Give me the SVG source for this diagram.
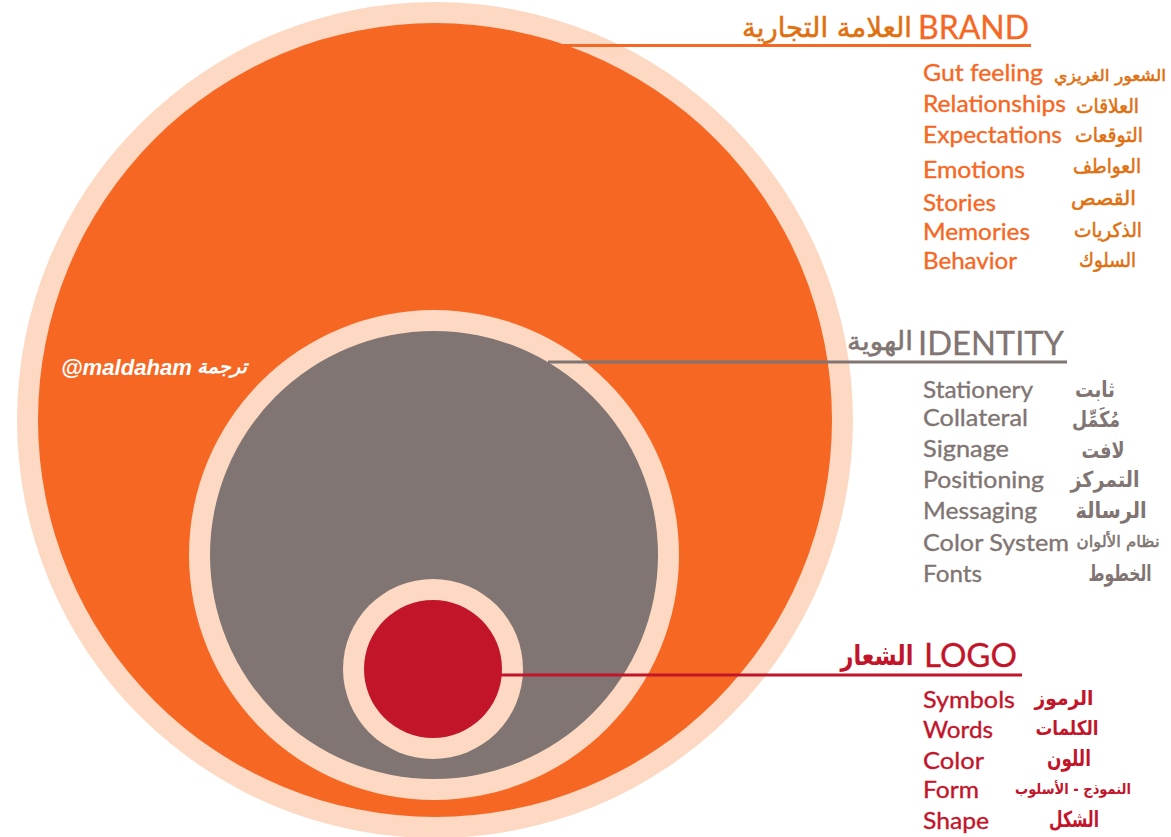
<svg xmlns="http://www.w3.org/2000/svg" width="1171" height="837" viewBox="0 0 1171 837">
<style>
text{font-family:"Lato","Noto Sans",sans-serif}
.ar{font-family:"DejaVu Sans",sans-serif;font-weight:bold;text-anchor:middle}
.arn{font-family:"DejaVu Sans",sans-serif;text-anchor:middle;stroke-width:.55px}
.h{font-size:32px;stroke-width:.3px}
.i{font-size:24px;stroke-width:.35px}
.o{fill:#f66723;stroke:#f66723}.oa{fill:#e0700f;stroke:#e0700f}
.g{fill:#807572;stroke:#807572}.r{fill:#c2152a;stroke:#c2152a}
.ar{stroke:none}
.pale{fill:#fdd9c3;stroke:none}
.c{fill:#f66723;stroke:none}.d{fill:#807572;stroke:none}.e{fill:#c2152a;stroke:none}
.ln{fill:none;stroke-width:3}
</style>
<rect width="1171" height="837" fill="#fff"/>
<g id="node-brand">
<circle class="pale" cx="435" cy="420" r="418"/>
<circle class="c" cx="435" cy="420" r="397"/>
</g>
<g id="node-identity">
<circle class="pale" cx="434" cy="555" r="245"/>
<circle class="d" cx="434" cy="555" r="224"/>
</g>
<g id="node-logo">
<circle class="pale" cx="433" cy="669" r="90"/>
<circle class="e" cx="433" cy="669" r="69"/>
</g>
<g id="connectors">
<path class="ln" stroke="#f66723" d="M563 45.500H1031"/>
<path class="ln" stroke="#807572" d="M548 362H1067"/>
<path class="ln" stroke="#c2152a" d="M500 675H1022"/>
</g>
<g id="label-brand">
<text class="h o" x="918" y="39" textLength="111" lengthAdjust="spacingAndGlyphs">BRAND</text>
<text class="arn oa" x="827" y="37" font-size="28" textLength="170" lengthAdjust="spacingAndGlyphs">العلامة التجارية</text>
<text class="i o" x="923" y="81" textLength="120" lengthAdjust="spacingAndGlyphs">Gut feeling</text><text class="arn oa" x="1110" y="81" font-size="16" textLength="112" lengthAdjust="spacingAndGlyphs">الشعور الغريزي</text>
<text class="i o" x="923" y="112" textLength="143" lengthAdjust="spacingAndGlyphs">Relationships</text><text class="arn oa" x="1107.500" y="113" font-size="20" textLength="63" lengthAdjust="spacingAndGlyphs">العلاقات</text>
<text class="i o" x="923" y="143" textLength="139" lengthAdjust="spacingAndGlyphs">Expectations</text><text class="arn oa" x="1109" y="142" font-size="20" textLength="68" lengthAdjust="spacingAndGlyphs">التوقعات</text>
<text class="i o" x="923" y="178" textLength="102" lengthAdjust="spacingAndGlyphs">Emotions</text><text class="arn oa" x="1107" y="173" font-size="20" textLength="68" lengthAdjust="spacingAndGlyphs">العواطف</text>
<text class="i o" x="923" y="211" textLength="73" lengthAdjust="spacingAndGlyphs">Stories</text><text class="arn oa" x="1103.500" y="205" font-size="20" textLength="65" lengthAdjust="spacingAndGlyphs">القصص</text>
<text class="i o" x="923" y="240" textLength="107" lengthAdjust="spacingAndGlyphs">Memories</text><text class="arn oa" x="1108" y="237" font-size="20" textLength="68" lengthAdjust="spacingAndGlyphs">الذكريات</text>
<text class="i o" x="923" y="269" textLength="94" lengthAdjust="spacingAndGlyphs">Behavior</text><text class="arn oa" x="1107.500" y="267" font-size="20" textLength="57" lengthAdjust="spacingAndGlyphs">السلوك</text>
</g>
<g id="label-identity">
<text class="h g" x="918" y="355" textLength="146" lengthAdjust="spacingAndGlyphs">IDENTITY</text>
<text class="arn g" x="880" y="350" font-size="26" textLength="66" lengthAdjust="spacingAndGlyphs">الهوية</text>
<text class="i g" x="923" y="398" textLength="110" lengthAdjust="spacingAndGlyphs">Stationery</text><text class="ar g" x="1095" y="397" font-size="22" textLength="40" lengthAdjust="spacingAndGlyphs">ثابت</text>
<text class="i g" x="923" y="426" textLength="105" lengthAdjust="spacingAndGlyphs">Collateral</text><text class="ar g" x="1096" y="427" font-size="22" textLength="48" lengthAdjust="spacingAndGlyphs">مُكَمِّل</text>
<text class="i g" x="923" y="457" textLength="86" lengthAdjust="spacingAndGlyphs">Signage</text><text class="ar g" x="1103" y="458" font-size="22" textLength="43" lengthAdjust="spacingAndGlyphs">لافت</text>
<text class="i g" x="923" y="488" textLength="121" lengthAdjust="spacingAndGlyphs">Positioning</text><text class="ar g" x="1105" y="487" font-size="22" textLength="69" lengthAdjust="spacingAndGlyphs">التمركز</text>
<text class="i g" x="923" y="519" textLength="114" lengthAdjust="spacingAndGlyphs">Messaging</text><text class="ar g" x="1111" y="518" font-size="22" textLength="71" lengthAdjust="spacingAndGlyphs">الرسالة</text>
<text class="i g" x="923" y="551" textLength="146" lengthAdjust="spacingAndGlyphs">Color System</text><text class="arn g" x="1118" y="547" font-size="16" textLength="83" lengthAdjust="spacingAndGlyphs">نظام الألوان</text>
<text class="i g" x="923" y="582" textLength="59" lengthAdjust="spacingAndGlyphs">Fonts</text><text class="ar g" x="1120" y="581" font-size="22" textLength="63" lengthAdjust="spacingAndGlyphs">الخطوط</text>
</g>
<g id="label-logo">
<text class="h r" x="924" y="667" textLength="93" lengthAdjust="spacingAndGlyphs">LOGO</text>
<text class="ar r" x="877" y="665" font-size="28" textLength="73" lengthAdjust="spacingAndGlyphs">الشعار</text>
<text class="i r" x="923" y="708" textLength="92" lengthAdjust="spacingAndGlyphs">Symbols</text><text class="ar r" x="1064" y="705" font-size="20" textLength="59" lengthAdjust="spacingAndGlyphs">الرموز</text>
<text class="i r" x="923" y="738" textLength="70" lengthAdjust="spacingAndGlyphs">Words</text><text class="ar r" x="1067" y="735" font-size="20" textLength="63" lengthAdjust="spacingAndGlyphs">الكلمات</text>
<text class="i r" x="923" y="769" textLength="61" lengthAdjust="spacingAndGlyphs">Color</text><text class="ar r" x="1069" y="766" font-size="22" textLength="44" lengthAdjust="spacingAndGlyphs">اللون</text>
<text class="i r" x="923" y="798" textLength="56" lengthAdjust="spacingAndGlyphs">Form</text><text class="ar r" x="1073" y="794" font-size="15" textLength="116" lengthAdjust="spacingAndGlyphs">النموذج - الأسلوب</text>
<text class="i r" x="923" y="829" textLength="66" lengthAdjust="spacingAndGlyphs">Shape</text><text class="ar r" x="1074" y="827" font-size="22" textLength="50" lengthAdjust="spacingAndGlyphs">الشكل</text>
</g>
<g id="credit">
<text x="61" y="375" font-size="22" font-weight="bold" font-style="italic" fill="#fff" textLength="131" lengthAdjust="spacingAndGlyphs" style="font-family:'Liberation Sans',sans-serif">@maldaham</text>
<text x="222" y="373" text-anchor="middle" font-size="19" font-weight="bold" font-style="italic" fill="#fff" textLength="50" lengthAdjust="spacingAndGlyphs" style="font-family:'DejaVu Sans',sans-serif">ترجمة</text>
</g>
</svg>
